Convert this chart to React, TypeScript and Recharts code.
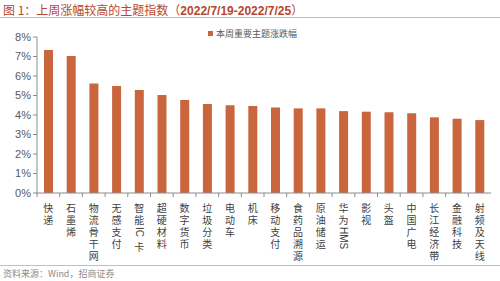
import React from "react";
import { BarChart, Bar, XAxis, YAxis } from "recharts";

const THEMES = [
  "快递", "石墨烯", "物流骨干网", "无感支付", "智能IC卡",
  "超硬材料", "数字货币", "垃圾分类", "电动车", "机床",
  "移动支付", "食药品溯源", "原油储运", "华为HMS", "影视",
  "头盔", "中国广电", "长江经济带", "金融科技", "射频及天线",
];
const WEEKLY_CHANGE = [
  7.33, 7.03, 5.62, 5.49, 5.28, 5.03, 4.77, 4.56, 4.5, 4.46,
  4.39, 4.34, 4.34, 4.2, 4.17, 4.14, 4.09, 3.88, 3.81, 3.74,
];
const Y_TICKS = [0, 1, 2, 3, 4, 5, 6, 7, 8];

const data = THEMES.map((name, i) => ({ name, value: WEEKLY_CHANGE[i] }));

const W = 500;
const H = 281;
const M = { top: 37, right: 9, left: 0, bottom: 0 };
const Y_W = 37;
const BAND = (W - M.right - Y_W) / THEMES.length;
const BAR_COLOR = "#C9663E";
const CJK = "'Noto Sans CJK SC', 'Noto Sans', sans-serif";
const CHAR_STEP = 12;

// vertical label: CJK runs stacked upright, latin runs turned sideways
const VerticalTick = (props: any) => {
  const { x, y, payload } = props;
  const runs: string[] = String(payload.value).match(/[A-Za-z0-9]+|[^A-Za-z0-9]+/g) || [];
  let cy = y + 1;
  const items = runs.map((run, i) => {
    if (/^[A-Za-z0-9]+$/.test(run)) {
      const el = (
        <text
          key={i}
          transform={`translate(${x - 3.5},${cy + 1}) rotate(90)`}
          fill="#404040"
          fontSize={10}
          fontFamily="'Liberation Sans', Arial, sans-serif"
        >
          {run}
        </text>
      );
      cy += run.length * 6.6 + 2;
      return el;
    }
    const chars = Array.from(run);
    const el = (
      <text key={i} x={x} y={cy + 9.5} textAnchor="middle" fill="#404040" fontSize={10} fontFamily={CJK}>
        {chars.map((c, j) => (
          <tspan key={j} x={x} dy={j === 0 ? 0 : CHAR_STEP}>
            {c}
          </tspan>
        ))}
      </text>
    );
    cy += chars.length * CHAR_STEP;
    return el;
  });
  return (
    <g>
      <line x1={x - BAND / 2} y1={y - 8} x2={x - BAND / 2} y2={y - 4} stroke="#8c8c8c" />
      {items}
    </g>
  );
};

export default function App() {
  return (
    <div style={{ position: "relative", width: W, height: H, background: "#fff", overflow: "hidden" }}>
      <style>{"body{margin:0}"}</style>
      <div
        style={{
          position: "absolute", left: 3, top: 1, fontSize: 12, color: "#B5472F",
          fontFamily: "'Noto Sans CJK SC', sans-serif", whiteSpace: "nowrap",
        }}
      >
        图 1：上周涨幅较高的主题指数（
        <b style={{ fontFamily: "'Liberation Sans', Arial, sans-serif" }}>2022/7/19-2022/7/25</b>）
      </div>
      <div style={{ position: "absolute", left: 0, top: 17, width: W, height: 1, background: "#E3B4A6" }} />

      <BarChart width={W} height={H} data={data} margin={M}>
        <YAxis
          width={Y_W}
          domain={[0, 8]}
          ticks={Y_TICKS}
          tickFormatter={(v) => `${v}%`}
          interval={0}
          axisLine={{ stroke: "#8c8c8c" }}
          tickLine={{ stroke: "#8c8c8c" }}
          tickSize={4}
          tick={{ fill: "#595959", fontSize: 11, fontFamily: "'Liberation Sans', Arial, sans-serif" }}
        />
        <XAxis
          dataKey="name"
          height={88}
          interval={0}
          axisLine={{ stroke: "#8c8c8c" }}
          tickLine={false}
          tick={<VerticalTick />}
        />
        <Bar dataKey="value" fill={BAR_COLOR} barSize={9} isAnimationActive={false} />
      </BarChart>

      <div
        style={{
          position: "absolute", left: 208, top: 27, fontSize: 9, color: "#595959",
          fontFamily: CJK, display: "flex", alignItems: "center", whiteSpace: "nowrap",
        }}
      >
        <span style={{ display: "inline-block", width: 5, height: 5, background: BAR_COLOR, marginRight: 3 }} />
        本周重要主题涨跌幅
      </div>

      <div style={{ position: "absolute", left: 0, top: 265, width: W, height: 1, background: "#E3B4A6" }} />
      <div
        style={{
          position: "absolute", left: 3, top: 267, fontSize: 9, color: "#8c8c8c",
          fontFamily: CJK, whiteSpace: "nowrap",
        }}
      >
        资料来源：Wind，招商证券
      </div>
    </div>
  );
}
